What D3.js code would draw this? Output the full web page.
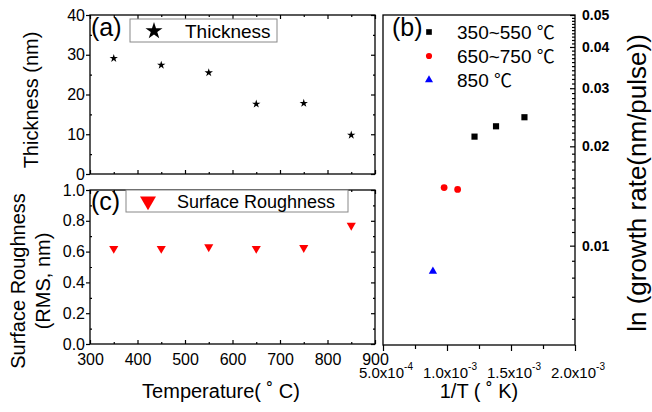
<!DOCTYPE html>
<html>
<head>
<meta charset="utf-8">
<script src="https://cdn.jsdelivr.net/npm/d3@7"></script>
<style>
  body { margin: 0; background: #fff; }
  text { font-family: "Liberation Sans", Arial, sans-serif; }
</style>
</head>
<body>
<svg id="chart" width="652" height="412"></svg>
<script>
// ---- data ----
var tempC = [350, 450, 550, 650, 750, 850]
var thickness = [29.1, 27.4, 25.5, 17.6, 17.8, 9.8]
var roughness = [0.62, 0.62, 0.63, 0.62, 0.625, 0.77]

// growth rate vs 1/T, three temperature groups
var invT_low = [1.605e-3, 1.383e-3, 1.215e-3]   // 350~550
var rate_low = [0.0245, 0.0230, 0.0214]
var invT_mid = [1.083e-3, 0.9775e-3]            // 650~750
var rate_mid = [0.0148, 0.0150]
var invT_high = [0.890e-3]                      // 850
var rate_high = [0.00836]

// ticks
var tempTicks = [300, 400, 500, 600, 700, 800, 900]
var tempMinor = [350, 450, 550, 650, 750, 850]
var thickTicks = [0, 10, 20, 30, 40]
var thickMinor = [5, 15, 25, 35]
var roughTicks = [0, 0.2, 0.4, 0.6, 0.8, 1.0]
var roughMinor = [0.1, 0.3, 0.5, 0.7, 0.9]
var invTTicks = [5e-4, 1e-3, 1.5e-3, 2e-3]
var invTMant = ["5.0", "1.0", "1.5", "2.0"]
var invTExp = ["-4", "-3", "-3", "-3"]
var invTMinor = [7.5e-4, 1.25e-3, 1.75e-3]
var rateTicks = [0.01, 0.02, 0.03, 0.04, 0.05]
var rateLabels = ["0.01", "0.02", "0.03", "0.04", "0.05"]

var svg = d3.select("#chart")

// panel boxes
var A = {left: 90, right: 375, top: 15, bottom: 174}
var C = {left: 90, right: 375, top: 190, bottom: 344}
var B = {left: 383, right: 575, top: 15, bottom: 345}

var xT = d3.scaleLinear().domain([300, 900]).range([A.left, A.right])
var yA = d3.scaleLinear().domain([0, 40]).range([A.bottom, A.top])
var yC = d3.scaleLinear().domain([0, 1]).range([C.bottom, C.top])
var xB = d3.scaleLinear().domain([5e-4, 2e-3]).range([B.left, B.right])
var yB = d3.scaleLog().domain([0.005, 0.05]).range([B.bottom, B.top])

function ticks(g, axisFn, scale, values, size, fmt, pad) {
  g.call(axisFn(scale).tickValues(values).tickSize(size)
      .tickPadding(pad || 3).tickFormat(fmt || ""))
  g.select(".domain").remove()
  g.selectAll("line").attr("stroke", "#000").attr("stroke-width", 1.2)
  g.attr("font-family", null).attr("font-size", null)
  return g
}

function frame(P) {
  svg.append("rect")
    .attr("x", P.left).attr("y", P.top)
    .attr("width", P.right - P.left).attr("height", P.bottom - P.top)
    .attr("fill", "none").attr("stroke", "#000").attr("stroke-width", 1.3)
}

// ---------- panel (a) ----------
ticks(svg.append("g").attr("transform", `translate(0,${A.bottom})`), d3.axisBottom, xT, tempTicks, -4)
ticks(svg.append("g").attr("transform", `translate(0,${A.bottom})`), d3.axisBottom, xT, tempMinor, -2)
ticks(svg.append("g").attr("transform", `translate(0,${A.top})`), d3.axisTop, xT, tempTicks, -4)
ticks(svg.append("g").attr("transform", `translate(0,${A.top})`), d3.axisTop, xT, tempMinor, -2)
ticks(svg.append("g").attr("transform", `translate(${A.right},0)`), d3.axisRight, yA, thickTicks, -4)
ticks(svg.append("g").attr("transform", `translate(${A.right},0)`), d3.axisRight, yA, thickMinor, -2)
ticks(svg.append("g").attr("transform", `translate(${A.left},0)`), d3.axisLeft, yA, thickMinor, -2)
ticks(svg.append("g").attr("transform", `translate(${A.left},0)`), d3.axisLeft, yA, thickTicks, 4, d3.format("d"), 1)
  .selectAll("text").attr("font-size", 16).attr("fill", "#000")
frame(A)

svg.append("g").selectAll("path")
  .data(tempC)
  .join("path")
    .attr("transform", (d, i) => `translate(${xT(d)},${yA(thickness[i])})`)
    .attr("d", d3.symbol(d3.symbolStar, 22))
    .attr("fill", "#000")

svg.append("text").attr("x", 91).attr("y", 36).attr("font-size", 25).text("(a)")
svg.append("rect").attr("x", 130).attr("y", 19).attr("width", 147).attr("height", 23)
  .attr("fill", "#fff").attr("stroke", "#888").attr("stroke-width", 1)
svg.append("path").attr("transform", "translate(154,31)")
  .attr("d", d3.symbol(d3.symbolStar, 90)).attr("fill", "#000")
svg.append("text").attr("x", 185).attr("y", 37.5).attr("font-size", 19).text("Thickness")

svg.append("text")
  .attr("transform", "translate(38,100) rotate(-90)")
  .attr("text-anchor", "middle").attr("font-size", 20)
  .text("Thickness (nm)")

// ---------- panel (c) ----------
ticks(svg.append("g").attr("transform", `translate(0,${C.bottom})`), d3.axisBottom, xT, tempMinor, -2)
ticks(svg.append("g").attr("transform", `translate(0,${C.bottom})`), d3.axisBottom, xT, tempTicks, -4, d3.format("d"), 10)
  .selectAll("text").attr("font-size", 16).attr("fill", "#000")
ticks(svg.append("g").attr("transform", `translate(0,${C.top})`), d3.axisTop, xT, tempTicks, -4)
ticks(svg.append("g").attr("transform", `translate(0,${C.top})`), d3.axisTop, xT, tempMinor, -2)
ticks(svg.append("g").attr("transform", `translate(${C.right},0)`), d3.axisRight, yC, roughTicks, -4)
ticks(svg.append("g").attr("transform", `translate(${C.right},0)`), d3.axisRight, yC, roughMinor, -2)
ticks(svg.append("g").attr("transform", `translate(${C.left},0)`), d3.axisLeft, yC, roughMinor, -2)
ticks(svg.append("g").attr("transform", `translate(${C.left},0)`), d3.axisLeft, yC, roughTicks, 4, d3.format(".1f"), 1)
  .selectAll("text").attr("font-size", 16).attr("fill", "#000")
frame(C)

svg.append("g").selectAll("path")
  .data(tempC)
  .join("path")
    .attr("transform", (d, i) => `translate(${xT(d)},${yC(roughness[i])}) rotate(180)`)
    .attr("d", d3.symbol(d3.symbolTriangle, 36))
    .attr("fill", "#ff0000")

svg.append("rect").attr("x", 126).attr("y", 190).attr("width", 222).attr("height", 22)
  .attr("fill", "#fff").attr("stroke", "#888").attr("stroke-width", 1)
svg.append("text").attr("x", 91).attr("y", 210).attr("font-size", 25).text("(c)")
svg.append("path").attr("transform", "translate(148,201) rotate(180)")
  .attr("d", d3.symbol(d3.symbolTriangle, 110)).attr("fill", "#ff0000")
svg.append("text").attr("x", 177).attr("y", 208).attr("font-size", 18).text("Surface Roughness")

var ylabC = svg.append("text")
  .attr("transform", "translate(0,281) rotate(-90)")
  .attr("text-anchor", "middle").attr("font-size", 20)
ylabC.append("tspan").attr("x", 0).attr("y", 25).text("Surface Roughness")
ylabC.append("tspan").attr("x", 0).attr("y", 50).text("(RMS, nm)")

svg.append("text").attr("x", 221).attr("y", 398)
  .attr("text-anchor", "middle").attr("font-size", 20)
  .text("Temperature( \u02DA C)")

// ---------- panel (b) ----------
ticks(svg.append("g").attr("transform", `translate(0,${B.bottom})`), d3.axisBottom, xB, invTTicks, 6)
ticks(svg.append("g").attr("transform", `translate(0,${B.bottom})`), d3.axisBottom, xB, invTMinor, 4)

var rateMinor = d3.range(6, 50).filter(i => i % 10 !== 0).map(i => i / 1000)
ticks(svg.append("g").attr("transform", `translate(${B.right},0)`), d3.axisRight, yB, rateMinor, -3)
ticks(svg.append("g").attr("transform", `translate(${B.right},0)`), d3.axisRight, yB, rateTicks, -5, (d, i) => rateLabels[i], 7)
  .selectAll("text").attr("font-size", 14).attr("font-weight", "bold").attr("fill", "#000")
frame(B)

var xl = svg.append("g").selectAll("text")
  .data(invTTicks)
  .join("text")
    .attr("x", d => xB(d) + 3)
    .attr("y", 377.5)
    .attr("text-anchor", "middle")
    .attr("font-size", 15)
xl.append("tspan").text((d, i) => invTMant[i] + "x10")
xl.append("tspan").attr("font-size", 10).attr("dy", -8).text((d, i) => invTExp[i])

function groupPts(xs, ys, sym, size, color) {
  svg.append("g").selectAll("path")
    .data(xs)
    .join("path")
      .attr("transform", (d, i) => `translate(${xB(d)},${yB(ys[i])})`)
      .attr("d", d3.symbol(sym, size))
      .attr("fill", color)
}
groupPts(invT_low, rate_low, d3.symbolSquare, 38, "#000")
groupPts(invT_mid, rate_mid, d3.symbolCircle, 36, "#ff0000")
groupPts(invT_high, rate_high, d3.symbolTriangle, 30, "#0000ff")

svg.append("text").attr("x", 392).attr("y", 36).attr("font-size", 25).text("(b)")

var legB = [
  {label: "350~550 ", sym: d3.symbolSquare, size: 32, color: "#000", y: 32},
  {label: "650~750 ", sym: d3.symbolCircle, size: 30, color: "#ff0000", y: 56},
  {label: "850 ", sym: d3.symbolTriangle, size: 28, color: "#0000ff", y: 80}
]
var lg = svg.append("g").selectAll("g").data(legB).join("g")
lg.append("path")
  .attr("transform", d => `translate(429,${d.y})`)
  .attr("d", d => d3.symbol(d.sym, d.size)())
  .attr("fill", d => d.color)
var lt = lg.append("text").attr("x", 457).attr("y", d => d.y + 7).attr("font-size", 19)
lt.append("tspan").text(d => d.label)
lt.append("tspan").attr("font-family", "Noto Sans CJK SC").attr("font-size", 18).text("\u2103")

svg.append("text").attr("x", 479).attr("y", 398)
  .attr("text-anchor", "middle").attr("font-size", 20)
  .text("1/T ( \u02DA K)")

svg.append("text")
  .attr("transform", "translate(646,183) rotate(-90)")
  .attr("text-anchor", "middle").attr("font-size", 26)
  .text("ln (growth rate(nm/pulse))")
</script>
</body>
</html>
